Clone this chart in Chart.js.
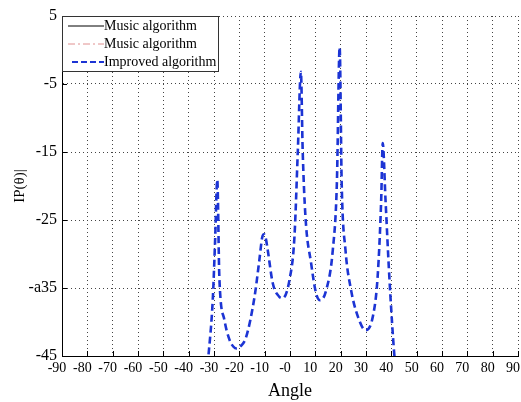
<!DOCTYPE html>
<html>
<head>
<meta charset="utf-8">
<script src="https://cdn.jsdelivr.net/npm/chart.js@4/dist/chart.umd.min.js"></script>
<style>
  html, body { margin: 0; padding: 0; background: #fff; }
</style>
</head>
<body>
<canvas id="chartDoa" width="521" height="402"></canvas>
<script>
// Spectrum (angle in degrees, |P(θ)| in dB)
const ANGLES = [-33, -32.2, -30.5, -29.6, -28.7, -27.9, -25.9, -23.9, -22.4, -21, -19.6, -17.3, -14, -12.1,
  -11, -10.3, -9.6, -8.8, -6.8, -4.2, -2.9, -0.2, 1.75, 3.1, 4.3, 5.0, 6.1, 8.35, 10.3, 11.9, 14.3, 16.9,
  18.5, 19.6, 20.4, 21.9, 24.1, 26.8, 29.8, 32.7, 34.6, 36, 36.6, 37.7, 39, 40.3, 41.2, 42];
const IMPROVED = [-48, -45, -36.8, -28.4, -19.1, -33.3, -39.7, -42.6, -43.6, -43.9, -43.6, -42.2, -36.3, -30.9,
  -27.6, -27.1, -27.6, -29.4, -34.3, -36.3, -36.5, -33.8, -27.5, -14.7, -3.2, -14.7, -24.5, -31.4, -35.8, -36.8, -35.3, -29.4,
  -19.6, 0.4, -19.6, -29.4, -35.3, -39.2, -41.2, -39.2, -33.3, -22, -13.7, -22, -31.9, -40.2, -44.9, -48];

const X_TICKS = [-90, -80, -70, -60, -50, -40, -30, -20, -10, 0, 10, 20, 30, 40, 50, 60, 70, 80, 90];
const X_TICK_LABELS = ["-90", "-80", "-70", "-60", "-50", "-40", "-30", "-20", "-10", "-0",
  "10", "20", "30", "40", "50", "60", "70", "80", "90"];
const Y_TICKS = [5, -5, -15, -25, -35, -45];
const Y_TICK_LABELS = ["5", "-5", "-15", "-25", "-a35", "-45"];

const SERIF = "'Liberation Serif', 'Times New Roman', serif";
const COLOR_MUSIC = "#000000";
const COLOR_MUSIC2 = "#e09090";
const COLOR_IMP = "#1c34d4";

const points = ANGLES.map((a, i) => ({ x: a, y: IMPROVED[i] }));

// small inward tick marks on the left and bottom axes
const innerTicks = {
  id: "innerTicks",
  afterDraw(chart) {
    const { ctx, chartArea: a, scales } = chart;
    ctx.save();
    ctx.strokeStyle = "#000";
    ctx.lineWidth = 1;
    ctx.beginPath();
    scales.x.ticks.forEach((t) => {
      const px = Math.round(scales.x.getPixelForValue(t.value)) + 0.5;
      ctx.moveTo(px, a.bottom);
      ctx.lineTo(px, a.bottom - 5);
    });
    scales.y.ticks.forEach((t) => {
      const py = Math.round(scales.y.getPixelForValue(t.value)) + 0.5;
      ctx.moveTo(a.left, py);
      ctx.lineTo(a.left + 5, py);
    });
    ctx.stroke();
    ctx.restore();
  },
};

// legend box in the top-left corner of the plot
const boxLegend = {
  id: "boxLegend",
  afterDraw(chart) {
    const { ctx, chartArea: a } = chart;
    const x0 = a.left, y0 = a.top, w = 157, h = 56;
    ctx.save();
    ctx.fillStyle = "#fff";
    ctx.fillRect(x0, y0, w, h);
    ctx.strokeStyle = "#333";
    ctx.lineWidth = 1;
    ctx.strokeRect(x0 + 0.5, y0 + 0.5, w - 1, h - 1);
    ctx.font = "14px " + SERIF;
    ctx.textBaseline = "middle";
    chart.data.datasets.forEach((ds, i) => {
      const y = y0 + 10 + i * 18;
      ctx.save();
      ctx.strokeStyle = ds.borderColor;
      ctx.lineWidth = i === 2 ? 2 : 1;
      ctx.setLineDash(ds.legendDash);
      ctx.beginPath();
      ctx.moveTo(x0 + (i === 2 ? 10 : 6), y);
      ctx.lineTo(x0 + 42, y);
      ctx.stroke();
      ctx.restore();
      ctx.fillStyle = "#000";
      ctx.fillText(ds.label, x0 + 42, y);
    });
    ctx.restore();
  },
};

new Chart(document.getElementById("chartDoa"), {
  type: "line",
  data: {
    datasets: [
      { label: "Music algorithm", data: [], borderColor: COLOR_MUSIC, borderWidth: 1, pointRadius: 0, legendDash: [] },
      { label: "Music algorithm", data: [], borderColor: COLOR_MUSIC2, borderWidth: 1, pointRadius: 0, legendDash: [7, 3, 2, 3] },
      {
        label: "Improved algorithm",
        data: points,
        borderColor: COLOR_IMP,
        borderWidth: 2.6,
        borderDash: [7, 4],
        pointRadius: 0,
        cubicInterpolationMode: "monotone",
        legendDash: [6, 3],
      },
    ],
  },
  options: {
    responsive: false,
    animation: false,
    devicePixelRatio: 1,
    layout: { padding: { top: 16, right: 3, left: 0, bottom: 0 } },
    plugins: { legend: { display: false }, tooltip: { enabled: false } },
    scales: {
      x: {
        type: "linear",
        min: -90,
        max: 90,
        afterBuildTicks: (s) => { s.ticks = X_TICKS.map((v) => ({ value: v })); },
        afterFit: (s) => { s.height = 46; s.paddingLeft = 0; s.paddingRight = 0; },
        ticks: {
          autoSkip: false,
          maxRotation: 0,
          padding: 4,
          labelOffset: -5,
          color: "#000",
          font: { family: SERIF, size: 14 },
          callback: (v) => X_TICK_LABELS[X_TICKS.indexOf(v)] ?? "",
        },
        grid: { color: "#444", lineWidth: 1, drawTicks: false },
        border: { color: "#000", width: 1, dash: [1, 3] },
        title: { display: true, text: "Angle", color: "#000", font: { family: SERIF, size: 18 }, padding: { top: 0, bottom: 0 } },
      },
      y: {
        min: -45,
        max: 5,
        afterBuildTicks: (s) => { s.ticks = Y_TICKS.map((v) => ({ value: v })); },
        afterFit: (s) => { s.width = 62; },
        ticks: {
          padding: 5,
          color: "#000",
          font: { family: SERIF, size: 16 },
          callback: (v) => Y_TICK_LABELS[Y_TICKS.indexOf(v)] ?? "",
        },
        grid: { color: "#444", lineWidth: 1, drawTicks: false },
        border: { color: "#000", width: 1, dash: [1, 3] },
        title: { display: true, text: "IP(θ)|", color: "#000", font: { family: SERIF, size: 15 }, padding: { top: 11, bottom: 0 } },
      },
    },
  },
  plugins: [innerTicks, boxLegend],
});
</script>
</body>
</html>
